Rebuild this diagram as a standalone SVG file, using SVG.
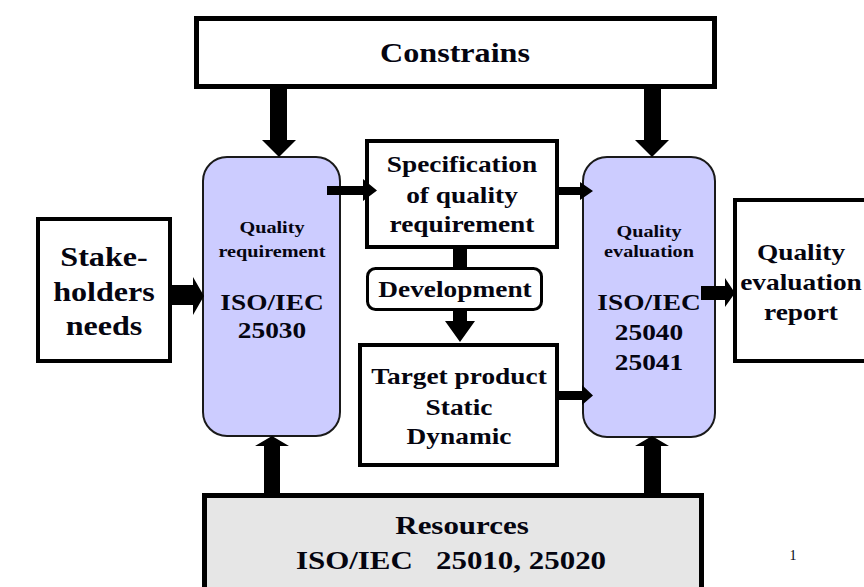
<svg xmlns="http://www.w3.org/2000/svg" width="864" height="587" viewBox="0 0 864 587">
<style>
  .box { fill: #ffffff; stroke: #000000; stroke-width: 4; }
  .proc { fill: #ccccff; stroke: #1a1a1a; stroke-width: 2; }
  .arrow { fill: #000000; stroke: none; }
  .lbl { font-family: 'Liberation Serif', 'Times New Roman', serif; font-weight: bold; fill: #050510; text-anchor: middle; }
  .t27 { font-size: 27px; }
  .t26 { font-size: 26px; }
  .t23 { font-size: 23px; }
  .t17 { font-size: 17px; }
  .pg { font-size: 14px; font-weight: normal; }
</style>
<rect x="0" y="0" width="864" height="587" fill="#ffffff"/>

<g id="constrains">
  <rect class="box" x="196.5" y="18.5" width="518" height="68" style="stroke-width:5"/>
  <text class="lbl t27" transform="translate(455,62) scale(1.19,1)">Constrains</text>
</g>

<g id="stakeholders">
  <rect class="box" x="38" y="219" width="132" height="142"/>
  <text class="lbl t27" transform="translate(104,266) scale(1.19,1)">Stake-</text>
  <text class="lbl t27" transform="translate(104,301) scale(1.19,1)">holders</text>
  <text class="lbl t27" transform="translate(104,335) scale(1.19,1)">needs</text>
</g>

<g id="quality-requirement">
  <rect class="proc" x="203" y="157" width="137" height="279" rx="24" ry="24"/>
  <text class="lbl t17" transform="translate(272,233) scale(1.19,1)">Quality</text>
  <text class="lbl t17" transform="translate(272,257) scale(1.19,1)">requirement</text>
  <text class="lbl t23" transform="translate(272,310) scale(1.19,1)">ISO/IEC</text>
  <text class="lbl t23" transform="translate(272,338) scale(1.19,1)">25030</text>
</g>

<g id="specification">
  <rect class="box" x="367" y="141" width="190" height="106"/>
  <text class="lbl t23" transform="translate(462,172) scale(1.19,1)">Specification</text>
  <text class="lbl t23" transform="translate(462,203) scale(1.19,1)">of quality</text>
  <text class="lbl t23" transform="translate(462,232) scale(1.19,1)">requirement</text>
</g>

<g id="development">
  <rect class="box" x="367.5" y="268.5" width="174" height="41" rx="8" ry="8" style="stroke-width:3"/>
  <text class="lbl t23" transform="translate(455,297) scale(1.19,1)">Development</text>
</g>

<g id="target-product">
  <rect class="box" x="360" y="345" width="197" height="120"/>
  <text class="lbl t23" transform="translate(459,384) scale(1.19,1)">Target product</text>
  <text class="lbl t23" transform="translate(459,415) scale(1.19,1)">Static</text>
  <text class="lbl t23" transform="translate(459,444) scale(1.19,1)">Dynamic</text>
</g>

<g id="quality-evaluation">
  <rect class="proc" x="583" y="157" width="132" height="280" rx="24" ry="24"/>
  <text class="lbl t17" transform="translate(649,237) scale(1.19,1)">Quality</text>
  <text class="lbl t17" transform="translate(649,257) scale(1.19,1)">evaluation</text>
  <text class="lbl t23" transform="translate(649,310) scale(1.19,1)">ISO/IEC</text>
  <text class="lbl t23" transform="translate(649,340) scale(1.19,1)">25040</text>
  <text class="lbl t23" transform="translate(649,370) scale(1.19,1)">25041</text>
</g>

<g id="evaluation-report">
  <rect class="box" x="735" y="200" width="160" height="161"/>
  <text class="lbl t23" transform="translate(801,260) scale(1.19,1)">Quality</text>
  <text class="lbl t23" transform="translate(801,290) scale(1.19,1)">evaluation</text>
  <text class="lbl t23" transform="translate(801,320) scale(1.19,1)">report</text>
</g>

<g id="resources">
  <rect class="box" x="204.5" y="495.5" width="497" height="120" style="fill:#e6e6e6;stroke-width:5"/>
  <text class="lbl t26" transform="translate(462,534) scale(1.19,1)">Resources</text>
  <text class="lbl t26" transform="translate(451,569) scale(1.19,1)" xml:space="preserve">ISO/IEC   25010, 25020</text>
</g>

<g id="connectors">
  <polygon class="arrow" points="270,87 287,87 287,140 296,140 279,157 262,140 270,140"/>
  <polygon class="arrow" points="644,87 661,87 661,140 669,140 652,157 635,140 644,140"/>
  <polygon class="arrow" points="264,493 280,493 280,446 289,446 272,436 255,446 264,446"/>
  <polygon class="arrow" points="644,493 661,493 661,446 669,446 652,436 635,446 644,446"/>
  <polygon class="arrow" points="172,285 193,285 193,277 204,296 193,315 193,305 172,305"/>
  <polygon class="arrow" points="327,186 363,186 363,179 377,190.5 363,201 363,195 327,195"/>
  <polygon class="arrow" points="559,187 580,187 580,182 593,191 580,200 580,195 559,195"/>
  <rect class="arrow" x="453" y="247" width="14" height="21"/>
  <polygon class="arrow" points="453,310 467,310 467,321 475,321 460,342 445,321 453,321"/>
  <polygon class="arrow" points="557,391 582,391 582,385 593,395.5 582,405 582,400 557,400"/>
  <polygon class="arrow" points="701,286 725,286 725,278 735,293 725,307 725,300 701,300"/>
</g>

<text class="lbl pg" x="793" y="560">1</text>
</svg>
